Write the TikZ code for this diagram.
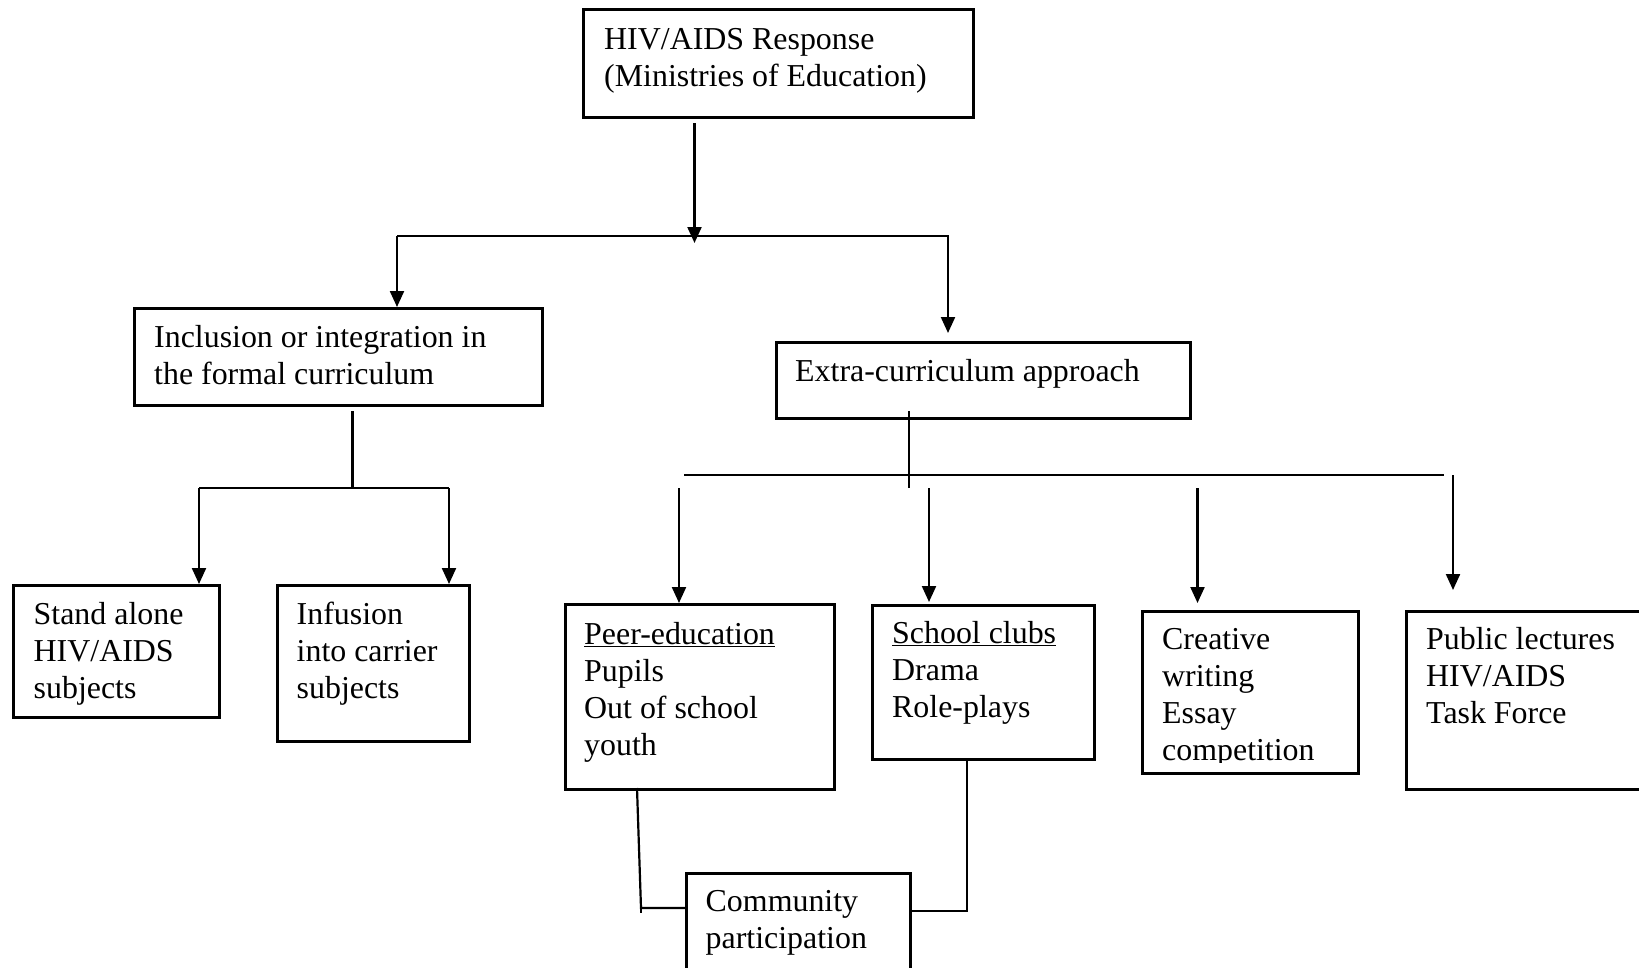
\documentclass[tikz,border=0pt]{standalone}
\usepackage{fontspec}
\setmainfont{Liberation Serif}
\usetikzlibrary{arrows.meta,calc}
\begin{document}
\begin{tikzpicture}[x=1pt,y=-1pt,
  box/.style={draw,line width=2.6pt,rectangle,inner sep=0pt,anchor=north west},
  txt/.style={anchor=base west,inner sep=0pt,align=left,font=\fontsize{31.9}{37}\selectfont},
  ln/.style={line width=2.2pt},
  arr/.style={line width=2.2pt,-{Triangle[length=16pt,width=14pt]}}]
\useasboundingbox (0,0) rectangle (1639,967);
\clip (0,0) rectangle (1639,967);
% boxes (text nodes anchored at the baseline of their last line)
\node[box,minimum width=390pt,minimum height=108pt] (top) at (582,8) {};
\node[txt] (toptxt) at ($(top.north west)+(22,78)$) {HIV/AIDS Response\\(Ministries of Education)};
\node[box,minimum width=408pt,minimum height=97pt] (incl) at (133,307) {};
\node[txt] (incltxt) at ($(incl.north west)+(21,77)$) {Inclusion or integration in\\the formal curriculum};
\node[box,minimum width=414pt,minimum height=76pt] (extra) at (775,341) {};
\node[txt] (extratxt) at ($(extra.north west)+(20,40)$) {Extra-curriculum approach};
\node[box,minimum width=206pt,minimum height=132pt] (stand) at (12,584) {};
\node[txt] (standtxt) at ($(stand.north west)+(21.5,114)$) {Stand alone\\HIV/AIDS\\subjects};
\node[box,minimum width=192pt,minimum height=156pt] (infus) at (276,584) {};
\node[txt] (infustxt) at ($(infus.north west)+(20.5,114)$) {Infusion\\into carrier\\subjects};
\node[box,minimum width=269pt,minimum height=185pt] (peer) at (564,603) {};
\node[txt] (peertxt) at ($(peer.north west)+(20,152)$) {\underline{Peer-education}\\Pupils\\Out of school\\youth};
\node[box,minimum width=222pt,minimum height=154pt] (school) at (871,604) {};
\node[txt] (schooltxt) at ($(school.north west)+(21,113)$) {\underline{School clubs}\\Drama\\Role-plays};
\node[box,minimum width=216pt,minimum height=162pt] (creative) at (1141,610) {};
\begin{scope}
\clip (1141,610) rectangle (1357,762);
\node[txt] (creativetxt) at ($(creative.north west)+(21,150)$) {Creative\\writing\\Essay\\competition};
\end{scope}
\node[box,minimum width=260pt,minimum height=178pt] (public) at (1405,610) {};
\node[txt] (publictxt) at ($(public.north west)+(21,113)$) {Public lectures\\HIV/AIDS\\Task Force};
\node[box,minimum width=224pt,minimum height=130pt] (comm) at (685,872) {};
\node[txt] (commtxt) at ($(comm.north west)+(20.5,76)$) {Community\\participation};
% level 1 connectors
\coordinate (s0) at (694.5,123);
\coordinate (s1) at (694.5,243);
\coordinate (h0) at (397,236);
\coordinate (h1) at (949,236);
\coordinate (h2) at (948,236);
\coordinate (e0) at (948,333);
\draw[arr] (s0) -- (s1);
\draw[ln] (h0) -- (h1);
\draw[arr] (h0) -- (h0 |- incl.north);
\draw[arr] (h2) -- (e0);
% inclusion branch
\coordinate (i0) at (352.5,411);
\coordinate (i1) at (352.5,488);
\coordinate (i2) at (199,488);
\coordinate (i3) at (449,488);
\draw[ln] (i0) -- (i1);
\draw[ln] (i2) -- (i3);
\draw[arr] (i2) -- (i2 |- stand.north);
\draw[arr] (i3) -- (i3 |- infus.north);
% extra branch
\coordinate (x0) at (909,411);
\coordinate (x1) at (909,488);
\coordinate (g0) at (684,475);
\coordinate (g1) at (1444,475);
\draw[ln] (x0) -- (x1);
\draw[ln] (g0) -- (g1);
\coordinate (p0) at (679,488);
\coordinate (p1) at (929,488);
\coordinate (p2) at (1197.5,488);
\coordinate (p3) at (1453,475);
\coordinate (q3) at (1453,590);
\draw[arr] (p0) -- (p0 |- peer.north);
\draw[arr] (p1) -- ([yshift=2pt]p1 |- school.north);
\draw[arr] (p2) -- ([yshift=7pt]p2 |- creative.north);
\draw[arr] (p3) -- (q3);
% community links
\coordinate (m0) at (637,788);
\coordinate (m1) at (641,908);
\draw[ln] (m0) -- (m1) -- (m1 -| comm.west);
\draw[ln] (641,901) -- (641,913);
\coordinate (n0) at (967,758);
\coordinate (n1) at (967,911);
\draw[ln] (n0) -- (n1) -- (n1 -| comm.east);
\end{tikzpicture}
\end{document}
